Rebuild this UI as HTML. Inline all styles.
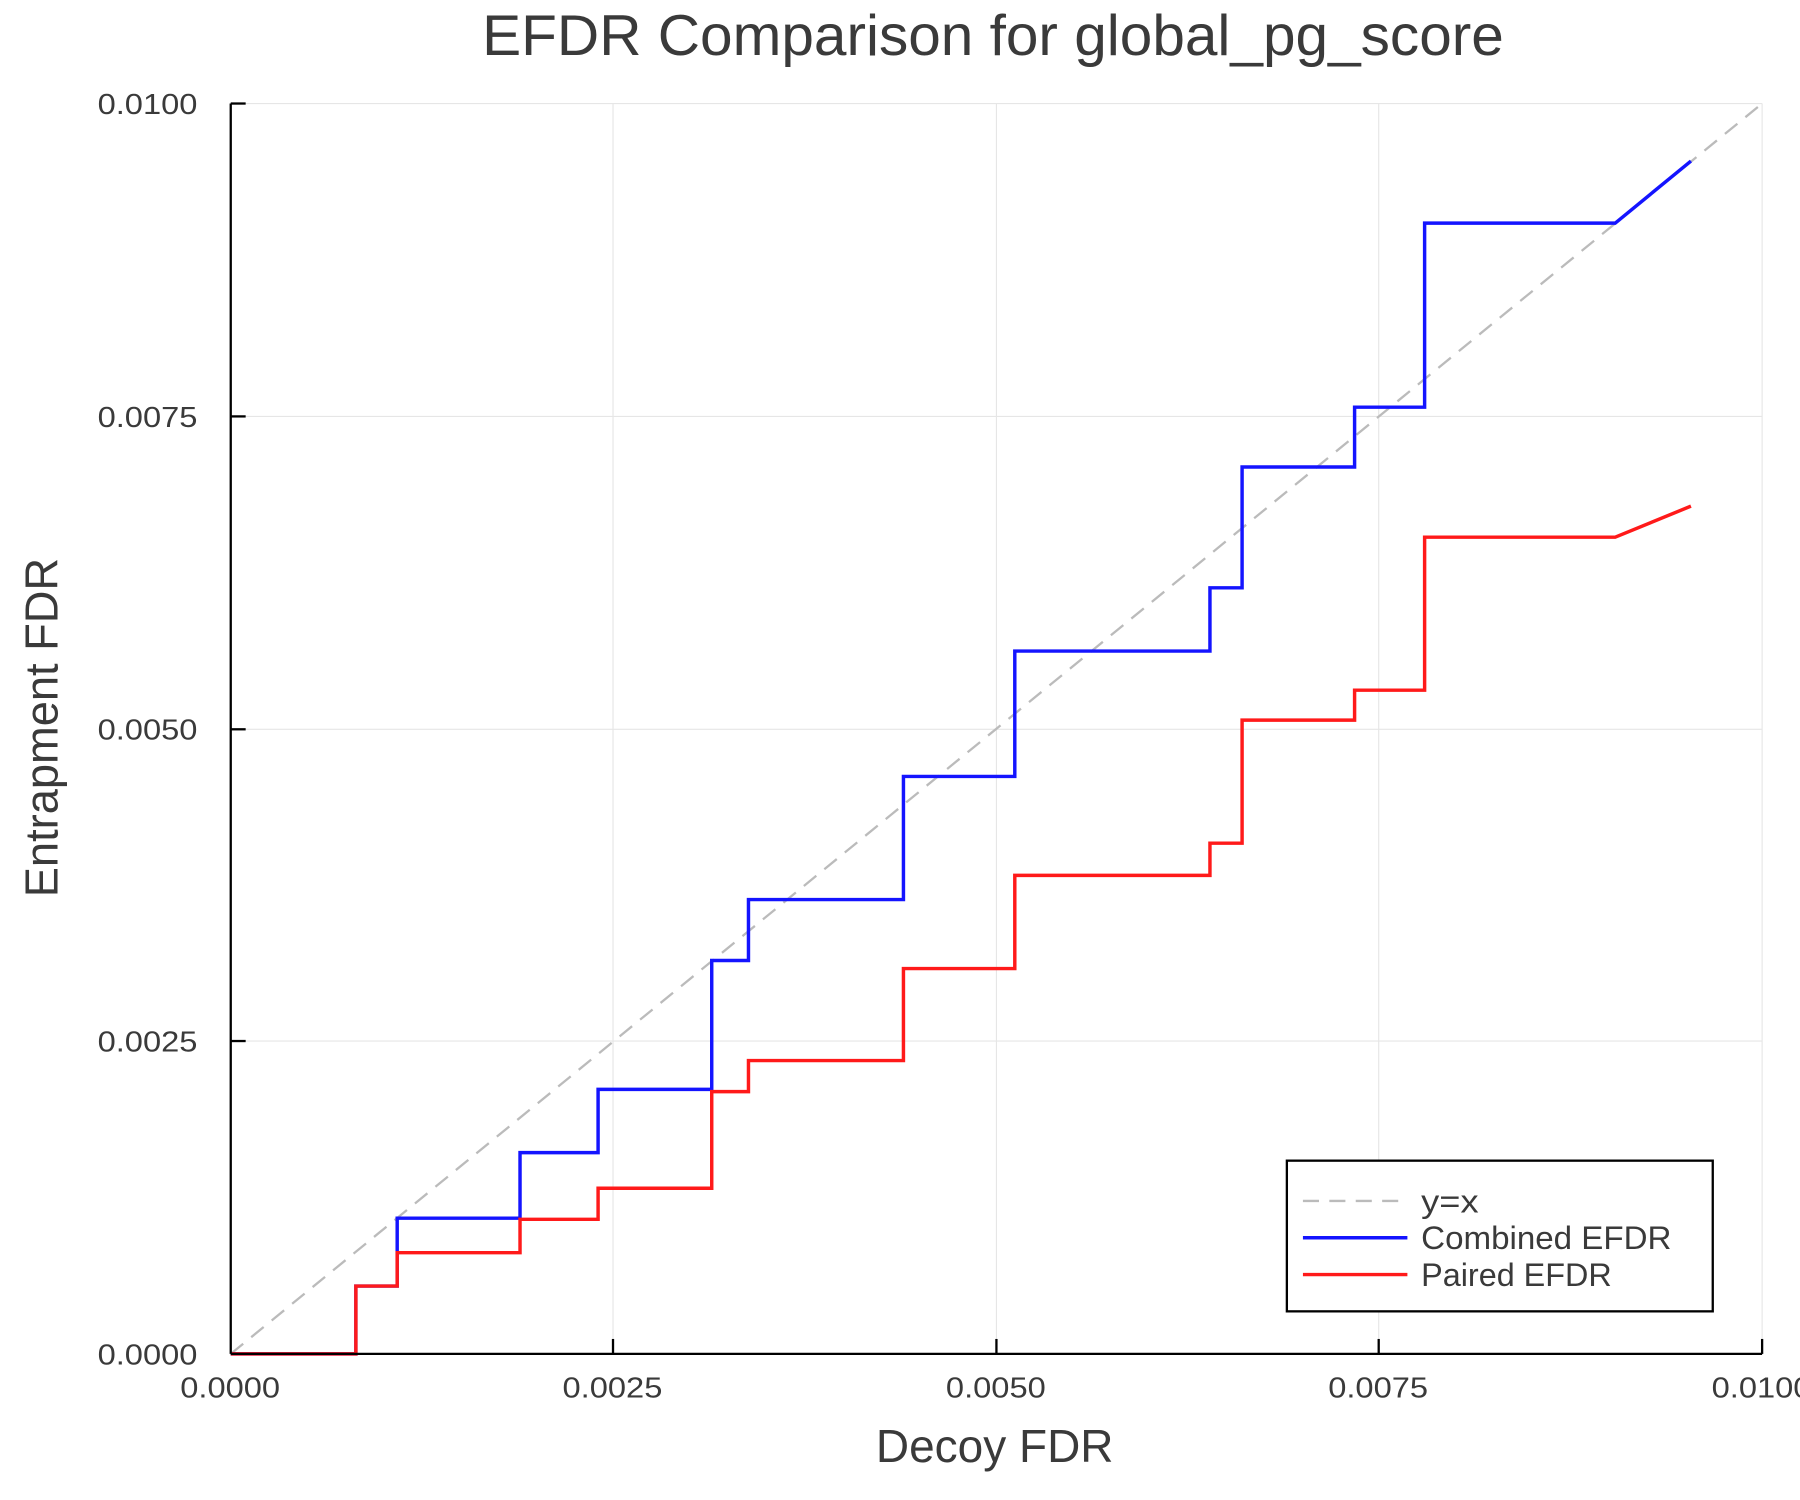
<!DOCTYPE html>
<html><head><meta charset="utf-8"><style>html,body{margin:0;padding:0;background:#fff;}svg{display:block}</style></head>
<body>
<svg width="1800" height="1500" viewBox="0 0 1568 1304" preserveAspectRatio="none" xmlns="http://www.w3.org/2000/svg" font-family="Liberation Sans, sans-serif">
<rect width="1568" height="1304" fill="#fff"/>
<g stroke="#e6e6e6" stroke-width="1">
<line x1="534" y1="90" x2="534" y2="1177"/><line x1="868" y1="90" x2="868" y2="1177"/><line x1="1201" y1="90" x2="1201" y2="1177"/><line x1="1535" y1="90" x2="1535" y2="1177"/>
<line x1="201" y1="90" x2="1535" y2="90"/><line x1="201" y1="362" x2="1535" y2="362"/><line x1="201" y1="634" x2="1535" y2="634"/><line x1="201" y1="905" x2="1535" y2="905"/>
</g>
<line x1="201" y1="1177" x2="1535" y2="90" stroke="#bbbbbb" stroke-width="2" stroke-dasharray="14,9"/>
<polyline fill="none" stroke="#1414ff" stroke-width="3" points="201,1177 310,1177 310,1118 346,1118 346,1059 453,1059 453,1002 521,1002 521,947 620,947 620,835 652,835 652,782 787,782 787,675 884,675 884,566 1054,566 1054,511 1082,511 1082,406 1180,406 1180,354 1241,354 1241,194 1407,194 1473,140"/>
<polyline fill="none" stroke="#ff1a1a" stroke-width="3" points="201,1177 310,1177 310,1118 346,1118 346,1089 453,1089 453,1060 521,1060 521,1033 620,1033 620,949 652,949 652,922 787,922 787,842 884,842 884,761 1054,761 1054,733 1082,733 1082,626 1180,626 1180,600 1241,600 1241,467 1407,467 1473,440"/>
<g stroke="#000" stroke-width="2">
<line x1="201" y1="1177" x2="1535" y2="1177"/><line x1="201" y1="90" x2="201" y2="1177"/>
<line x1="534" y1="1177" x2="534" y2="1164"/><line x1="868" y1="1177" x2="868" y2="1164"/><line x1="1201" y1="1177" x2="1201" y2="1164"/><line x1="1535" y1="1177" x2="1535" y2="1164"/>
<line x1="201" y1="90" x2="214" y2="90"/><line x1="201" y1="362" x2="214" y2="362"/><line x1="201" y1="634" x2="214" y2="634"/><line x1="201" y1="905" x2="214" y2="905"/>
</g>
<g fill="#3a3a3a" font-size="25">
<text x="157" y="1215" textLength="87" lengthAdjust="spacingAndGlyphs">0.0000</text>
<text x="490" y="1215" textLength="87" lengthAdjust="spacingAndGlyphs">0.0025</text>
<text x="824" y="1215" textLength="87" lengthAdjust="spacingAndGlyphs">0.0050</text>
<text x="1157" y="1215" textLength="87" lengthAdjust="spacingAndGlyphs">0.0075</text>
<text x="1491" y="1215" textLength="87" lengthAdjust="spacingAndGlyphs">0.0100</text>
<text x="85" y="1186" textLength="87" lengthAdjust="spacingAndGlyphs">0.0000</text>
<text x="85" y="914" textLength="87" lengthAdjust="spacingAndGlyphs">0.0025</text>
<text x="85" y="643" textLength="87" lengthAdjust="spacingAndGlyphs">0.0050</text>
<text x="85" y="371" textLength="87" lengthAdjust="spacingAndGlyphs">0.0075</text>
<text x="85" y="99" textLength="87" lengthAdjust="spacingAndGlyphs">0.0100</text>
</g>
<text x="420" y="48" font-size="50" fill="#3a3a3a" textLength="890" lengthAdjust="spacingAndGlyphs">EFDR Comparison for global_pg_score</text>
<text x="763" y="1271" font-size="40" fill="#3a3a3a" textLength="207" lengthAdjust="spacingAndGlyphs">Decoy FDR</text>
<text transform="translate(50,780) rotate(-90)" font-size="40" fill="#3a3a3a" textLength="295" lengthAdjust="spacingAndGlyphs">Entrapment FDR</text>
<rect x="1121" y="1009" width="371" height="131" fill="#fff" stroke="#000" stroke-width="2"/>
<line x1="1135" y1="1044" x2="1226" y2="1044" stroke="#bbbbbb" stroke-width="2" stroke-dasharray="14,9"/>
<line x1="1135" y1="1076" x2="1226" y2="1076" stroke="#1414ff" stroke-width="3"/>
<line x1="1135" y1="1108" x2="1226" y2="1108" stroke="#ff1a1a" stroke-width="3"/>
<g fill="#3a3a3a" font-size="28">
<text x="1238" y="1054" textLength="50" lengthAdjust="spacingAndGlyphs">y=x</text>
<text x="1238" y="1086" textLength="218" lengthAdjust="spacingAndGlyphs">Combined EFDR</text>
<text x="1238" y="1118" textLength="166" lengthAdjust="spacingAndGlyphs">Paired EFDR</text>
</g>
</svg>
</body></html>
